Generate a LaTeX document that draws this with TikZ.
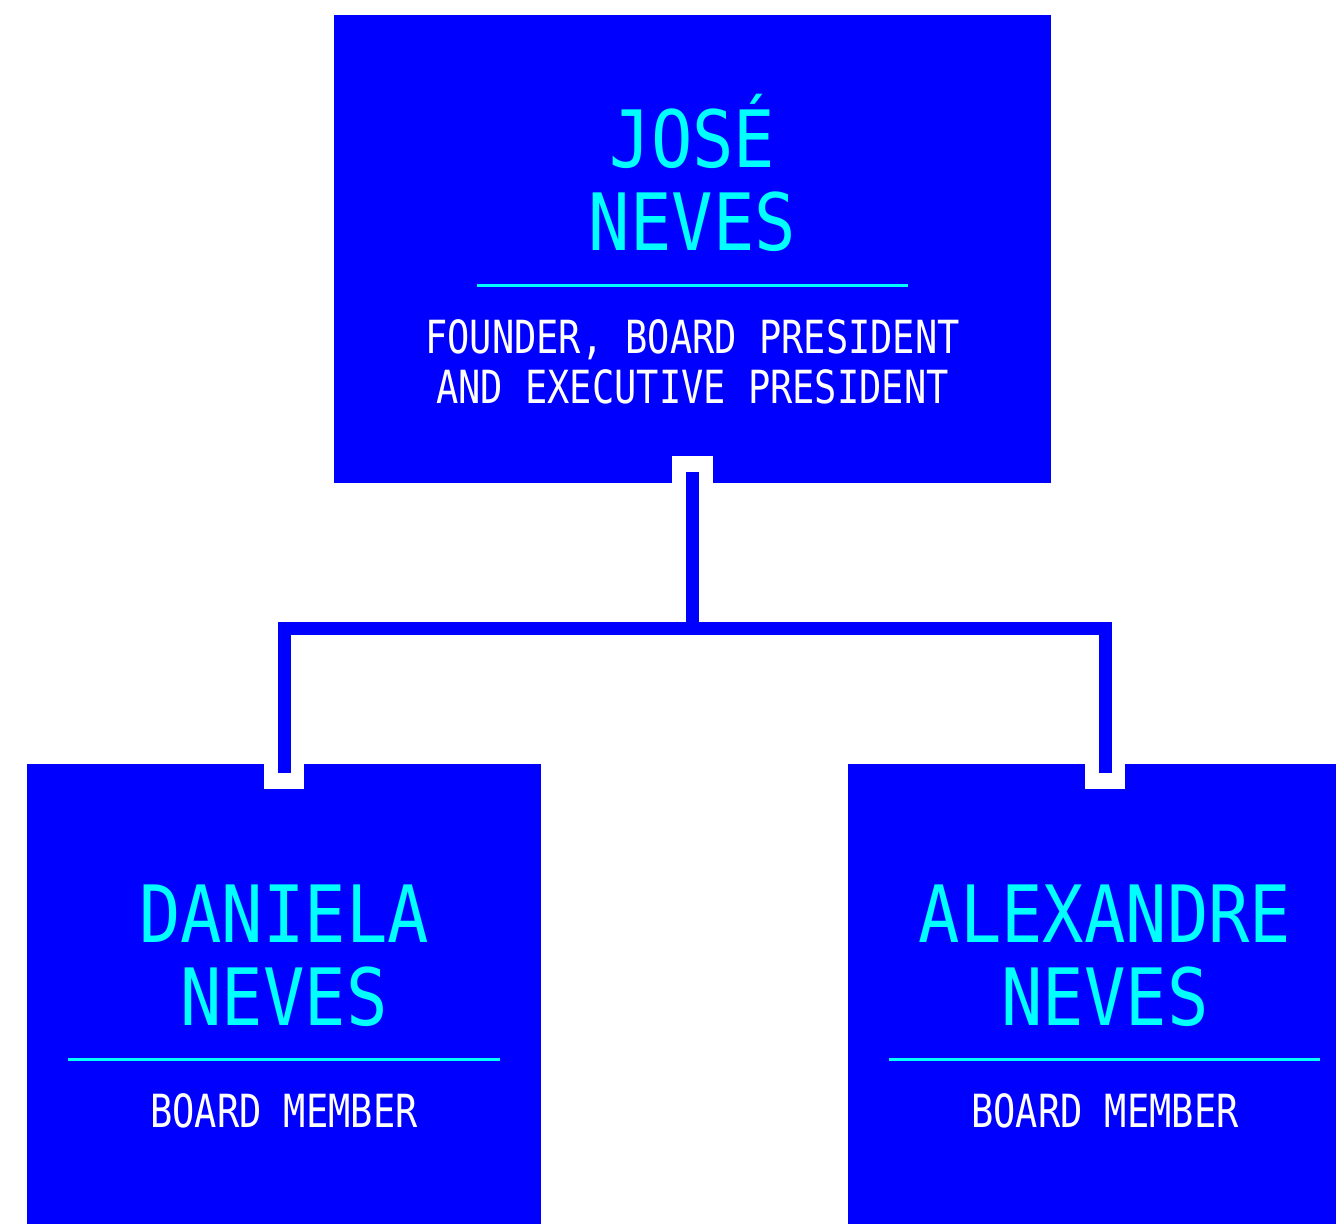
\documentclass[tikz,border=0pt]{standalone}
\usepackage{fontspec}
\usepackage{tikz}
\usetikzlibrary{calc}
\newfontfamily\namefont[FakeStretch=0.87]{DejaVu Sans Mono}
\newfontfamily\rolefont[FakeStretch=0.81]{DejaVu Sans Mono}
\definecolor{boxblue}{HTML}{0000FF}
\definecolor{namecyan}{HTML}{00FFFF}

\begin{document}
\begin{tikzpicture}[x=0.02cm,y=-0.02cm,
    card/.style={fill=boxblue,inner sep=0pt,outer sep=0pt,minimum width=10.28cm,minimum height=9.36cm},
    namelabel/.style={namecyan,align=center,anchor=base,font=\namefont\fontsize{45}{47}\selectfont},
    rolelabel/.style={white,align=center,anchor=base,font=\rolefont\fontsize{26}{28.45}\selectfont},
    divider/.style={namecyan,line width=0.06cm},
    link/.style={boxblue,line width=0.26cm,line join=miter},
    notch/.style={white}]
        \path[use as bounding box,clip] (0,0) rectangle (1336,1224);

        \node[card,minimum width=14.34cm] (jose) at (692.5,249) {};
        \node[card] (daniela) at (284,998) {};
        \node[card] (alexandre) at (1105,998) {};

        \node[namelabel] (jose name) at (692.5,250) {JOSÉ\\NEVES};
        \draw[divider] (477,285) -- (908,285);
        \node[rolelabel] (jose role) at (692.5,403) {FOUNDER, BOARD PRESIDENT\\AND EXECUTIVE PRESIDENT};

        \node[namelabel] (daniela name) at (284,1025) {DANIELA\\NEVES};
        \draw[divider] (68,1059) -- (500,1059);
        \node[rolelabel] (daniela role) at (284,1127) {BOARD MEMBER};

        \node[namelabel] (alexandre name) at (1105,1025) {ALEXANDRE\\NEVES};
        \draw[divider] (889,1059) -- (1320,1059);
        \node[rolelabel] (alexandre role) at (1105,1127) {BOARD MEMBER};

        % notches where the links meet the cards
        \fill[notch] ($(jose.south)+(-20.5,0)$) rectangle ($(jose.south)+(20.5,-27)$);
        \fill[notch] ($(daniela.north)+(-20,0)$) rectangle ($(daniela.north)+(20,25)$);
        \fill[notch] ($(alexandre.north)+(-20,0)$) rectangle ($(alexandre.north)+(20,25)$);

        \coordinate (jose tip) at ($(jose.south)+(0,-11)$);
        \coordinate (bus) at (692.5,628.5);
        \coordinate (daniela tip) at ($(daniela.north)+(0,9)$);
        \coordinate (alexandre tip) at ($(alexandre.north)+(0,9)$);
        \draw[link] (jose tip) -- (bus);
        \draw[link] (daniela tip) |- (bus) -| (alexandre tip);
      \end{tikzpicture}
\end{document}
